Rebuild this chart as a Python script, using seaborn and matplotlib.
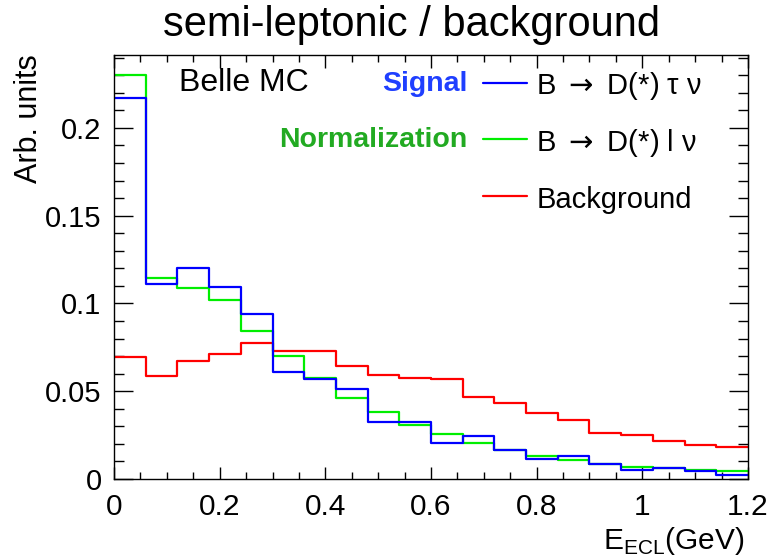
import numpy as np
import pandas as pd
import seaborn as sns
from matplotlib import pyplot as plt

# E_ECL histograms, 20 bins of 0.06 GeV between 0 and 1.2
bin_edges = [round(0.06 * i, 2) for i in range(21)]
signal = [0.2168, 0.1110, 0.1199, 0.1096, 0.0939, 0.0611, 0.0570, 0.0511, 0.0322, 0.0322,
          0.0205, 0.0246, 0.0165, 0.0114, 0.0129, 0.0085, 0.0049, 0.0060, 0.0047, 0.0023]
normalization = [0.2300, 0.1146, 0.1087, 0.1019, 0.0844, 0.0699, 0.0577, 0.0464, 0.0379, 0.0305,
                 0.0257, 0.0205, 0.0163, 0.0129, 0.0106, 0.0085, 0.0066, 0.0060, 0.0053, 0.0047]
background = [0.0693, 0.0587, 0.0670, 0.0714, 0.0773, 0.0731, 0.0727, 0.0642, 0.0594, 0.0574,
              0.0568, 0.0466, 0.0434, 0.0377, 0.0337, 0.0261, 0.0250, 0.0216, 0.0193, 0.0180]
samples = ['Signal', 'Normalization', 'Background']
sample_labels = [r'B$\;\rightarrow\;$D(*) τ ν', r'B$\;\rightarrow\;$D(*) l ν', 'Background']
x_ticks = [0, 0.2, 0.4, 0.6, 0.8, 1.0, 1.2]
x_tick_labels = ['0', '0.2', '0.4', '0.6', '0.8', '1', '1.2']
y_ticks = [0, 0.05, 0.1, 0.15, 0.2]
y_tick_labels = ['0', '0.05', '0.1', '0.15', '0.2']

line_colors = {'Signal': '#0000ff', 'Normalization': '#00ee00', 'Background': '#ff0000'}
text_colors = {'Signal': '#1f3fff', 'Normalization': '#22aa22'}

edges = np.array(bin_edges)
centers = (edges[:-1] + edges[1:]) / 2
df = pd.DataFrame({
    'E_ECL': np.tile(centers, 3),
    'value': signal + normalization + background,
    'sample': np.repeat(samples, len(centers)),
})

sns.set_style('ticks')
plt.rcParams['font.family'] = ['Liberation Sans', 'DejaVu Sans']
plt.rcParams['mathtext.fontset'] = 'dejavusans'
for key in ['text.color', 'axes.labelcolor', 'xtick.color', 'ytick.color']:
    plt.rcParams[key] = 'black'

fig = plt.figure(figsize=(7.74, 5.59), dpi=100)
ax = fig.add_axes([0.1473, 0.1431, 0.8191, 0.7585])

sns.histplot(data=df, x='E_ECL', weights='value', hue='sample', hue_order=samples,
             bins=bin_edges, element='step', fill=False, palette=line_colors,
             linewidth=1.6, legend=False, ax=ax)

ax.set_xlim(0, 1.2)
ax.set_ylim(0, 0.2415)
ax.set_xticks(x_ticks)
ax.set_xticklabels(x_tick_labels)
ax.set_yticks(y_ticks)
ax.set_yticklabels(y_tick_labels)
ax.set_xticks(np.arange(0, 1.2001, 0.05), minor=True)
ax.set_yticks(np.arange(0, 0.2401, 0.01), minor=True)
ax.tick_params(axis='both', which='both', direction='in', top=True, right=True,
               labelsize=21.5, width=1)
ax.tick_params(axis='y', labelsize=21)
ax.tick_params(axis='x', which='major', length=9, pad=10)
ax.tick_params(axis='x', which='minor', length=5)
ax.tick_params(axis='y', which='major', length=14, pad=9)
ax.tick_params(axis='y', which='minor', length=7)
for sp in ax.spines.values():
    sp.set_linewidth(1.0)
    sp.set_color('black')

ax.set_xlabel(r'E$_{\mathregular{ECL}}$(GeV)', fontsize=21.5, ha='right', va='top')
ax.xaxis.set_label_coords(0.994, -0.108)
ax.set_ylabel('Arb. units', fontsize=22, ha='right', va='top')
ax.yaxis.set_label_coords(-0.158, 1.002)

fig.text(0.532, 0.936, 'semi-leptonic / background', fontsize=30, ha='center', va='baseline')

ax.text(0.102, 0.915, 'Belle MC', transform=ax.transAxes, fontsize=23, va='baseline', ha='left')
row_line_y = [0.935, 0.801, 0.668]
row_text_y = [0.907, 0.774, 0.640]
row_name_y = [0.915, 0.783, 0.640]
for name, label, ly, ty, ny in zip(samples, sample_labels, row_line_y, row_text_y, row_name_y):
    if name in text_colors:
        ax.text(0.558, ny, name, transform=ax.transAxes, fontsize=20.5, fontweight='bold',
                color=text_colors[name], ha='right', va='baseline')
    ax.plot([0.582, 0.651], [ly, ly], transform=ax.transAxes, color=line_colors[name], lw=1.6)
    ax.text(0.666, ty, label, transform=ax.transAxes, fontsize=21, ha='left', va='baseline')

fig.savefig('out.png', dpi=100)
